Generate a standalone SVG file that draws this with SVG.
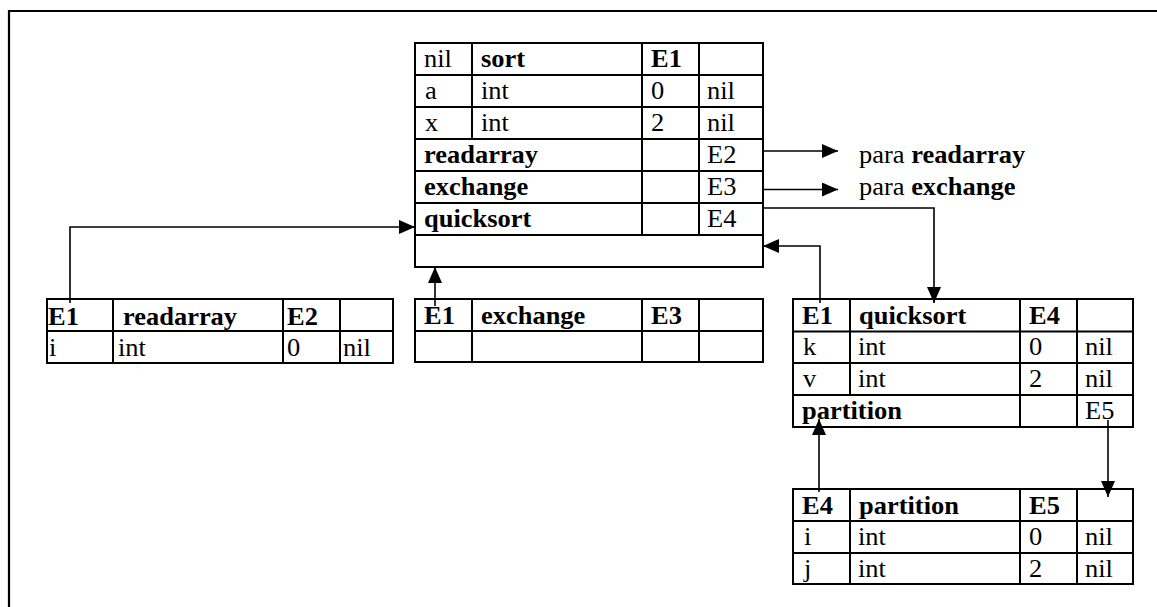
<svg xmlns="http://www.w3.org/2000/svg" width="1157" height="607" viewBox="0 0 1157 607">
<style>
text { font-family: "Liberation Serif", "Times New Roman", serif; font-size: 24.5px; fill: #000; }
.b { font-weight: bold; }
.cell { fill: none; stroke: #000; stroke-width: 2; }
.con { fill: none; stroke: #000; stroke-width: 1.6; }
</style>
<defs>
<marker id="ah" markerUnits="userSpaceOnUse" markerWidth="16" markerHeight="14" refX="16" refY="7" orient="auto">
<path d="M0,0 L16,7 L0,14 z" fill="#000"/>
</marker>
</defs>
<rect width="1157" height="607" fill="#fff"/>
<path d="M9,607 V11 H1157" fill="none" stroke="#000" stroke-width="2.2"/>

<g id="sort">
<rect class="cell" x="415" y="43" width="348" height="224"/>
<path class="cell" d="M415,75 H763 M415,107 H763 M415,139 H763 M415,171 H763 M415,203 H763 M415,235 H763 M472,43 V139 M642,43 V235 M699,43 V235"/>
<text transform="translate(424 67) scale(1.08 1)">nil</text><text class="b" transform="translate(481 67) scale(1.08 1)">sort</text><text class="b" transform="translate(651 67) scale(1.08 1)">E1</text>
<text transform="translate(425 98.5) scale(1.08 1)">a</text><text transform="translate(481 98.5) scale(1.08 1)">int</text><text transform="translate(651 98.5) scale(1.08 1)">0</text><text transform="translate(707 98.5) scale(1.08 1)">nil</text>
<text transform="translate(425 130.5) scale(1.08 1)">x</text><text transform="translate(481 130.5) scale(1.08 1)">int</text><text transform="translate(651 130.5) scale(1.08 1)">2</text><text transform="translate(707 130.5) scale(1.08 1)">nil</text>
<text class="b" transform="translate(424 162.5) scale(1.08 1)">readarray</text><text transform="translate(707 162.5) scale(1.08 1)">E2</text>
<text class="b" transform="translate(424 194.5) scale(1.08 1)">exchange</text><text transform="translate(707 194.5) scale(1.08 1)">E3</text>
<text class="b" transform="translate(424 226.5) scale(1.08 1)">quicksort</text><text transform="translate(707 226.5) scale(1.08 1)">E4</text>
</g>

<g id="readarray">
<rect class="cell" x="47" y="299" width="346" height="64"/>
<path class="cell" d="M47,331 H393 M113,299 V363 M283,299 V363 M340,299 V363"/>
<text class="b" transform="translate(48 325) scale(1.08 1)">E1</text><text class="b" transform="translate(123 325) scale(1.08 1)">readarray</text><text class="b" transform="translate(287 325) scale(1.08 1)">E2</text>
<text transform="translate(49 356) scale(1.08 1)">i</text><text transform="translate(118 356) scale(1.08 1)">int</text><text transform="translate(287 356) scale(1.08 1)">0</text><text transform="translate(343 356) scale(1.08 1)">nil</text>
</g>

<g id="exchange">
<rect class="cell" x="415" y="299" width="348" height="63"/>
<path class="cell" d="M415,331 H763 M472,299 V362 M642,299 V362 M699,299 V362"/>
<text class="b" transform="translate(424 323.5) scale(1.08 1)">E1</text><text class="b" transform="translate(481 323.5) scale(1.08 1)">exchange</text><text class="b" transform="translate(651 323.5) scale(1.08 1)">E3</text>
</g>

<g id="quicksort">
<rect class="cell" x="793" y="299" width="340" height="128"/>
<path class="cell" d="M793,331.5 H1133 M793,363 H1133 M793,395 H1133 M850,299 V395 M1020,299 V427 M1077,299 V427"/>
<text class="b" transform="translate(802 323.5) scale(1.08 1)">E1</text><text class="b" transform="translate(859 323.5) scale(1.08 1)">quicksort</text><text class="b" transform="translate(1029 323.5) scale(1.08 1)">E4</text>
<text transform="translate(803 355) scale(1.08 1)">k</text><text transform="translate(858 355) scale(1.08 1)">int</text><text transform="translate(1029 355) scale(1.08 1)">0</text><text transform="translate(1085 355) scale(1.08 1)">nil</text>
<text transform="translate(803 387) scale(1.08 1)">v</text><text transform="translate(858 387) scale(1.08 1)">int</text><text transform="translate(1029 387) scale(1.08 1)">2</text><text transform="translate(1085 387) scale(1.08 1)">nil</text>
<text class="b" transform="translate(802 418.5) scale(1.08 1)">partition</text><text transform="translate(1085 418.5) scale(1.08 1)">E5</text>
</g>

<g id="partition">
<rect class="cell" x="793" y="489" width="340" height="95"/>
<path class="cell" d="M793,521 H1133 M793,553 H1133 M850,489 V584 M1020,489 V584 M1077,489 V584"/>
<text class="b" transform="translate(802 514) scale(1.08 1)">E4</text><text class="b" transform="translate(859 514) scale(1.08 1)">partition</text><text class="b" transform="translate(1029 514) scale(1.08 1)">E5</text>
<text transform="translate(804 545) scale(1.08 1)">i</text><text transform="translate(858 545) scale(1.08 1)">int</text><text transform="translate(1029 545) scale(1.08 1)">0</text><text transform="translate(1085 545) scale(1.08 1)">nil</text>
<text transform="translate(804 577) scale(1.08 1)">j</text><text transform="translate(858 577) scale(1.08 1)">int</text><text transform="translate(1029 577) scale(1.08 1)">2</text><text transform="translate(1085 577) scale(1.08 1)">nil</text>
</g>

<g id="labels">
<text transform="translate(859 163) scale(1.08 1)">para <tspan class="b">readarray</tspan></text>
<text transform="translate(859 195) scale(1.08 1)">para <tspan class="b">exchange</tspan></text>
</g>

<g id="connectors">
<path class="con" d="M70,303 V227 H415" marker-end="url(#ah)"/>
<path class="con" d="M435,306 V267" marker-end="url(#ah)"/>
<path class="con" d="M762,151 H838" marker-end="url(#ah)"/>
<path class="con" d="M762,189.5 H838" marker-end="url(#ah)"/>
<path class="con" d="M762,208 H934 V303" marker-end="url(#ah)"/>
<path class="con" d="M820,303 V246 H763" marker-end="url(#ah)"/>
<path class="con" d="M819,492 V419" marker-end="url(#ah)"/>
<path class="con" d="M1108,420 V497" marker-end="url(#ah)"/>
</g>
</svg>
